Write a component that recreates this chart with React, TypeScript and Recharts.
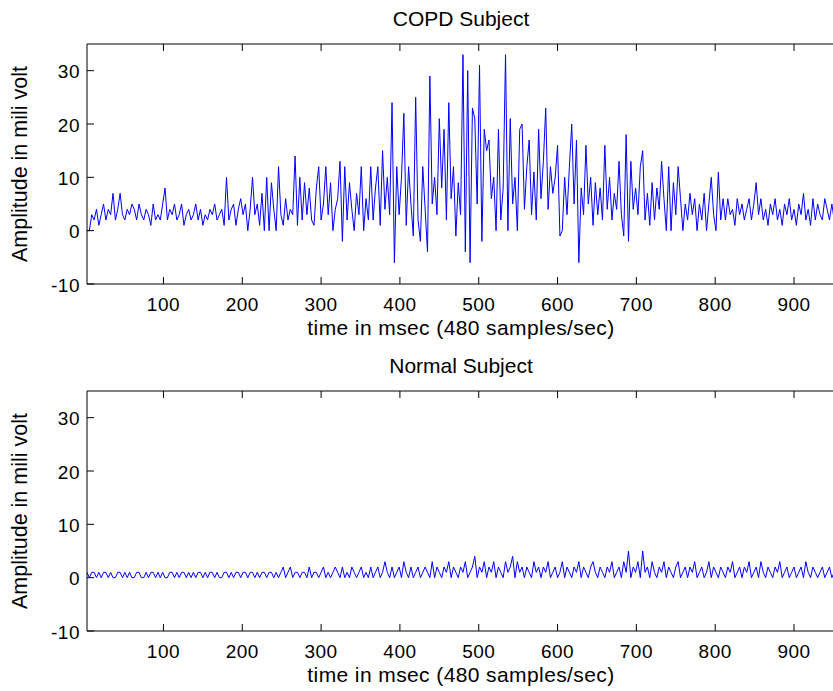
import React from 'react';
import { LineChart, Line, XAxis, YAxis, Label } from 'recharts';

const SAMPLE_START = 3;
const SAMPLE_STEP = 3;
const X_DOMAIN: [number, number] = [3, 952];
const X_TICKS = [100, 200, 300, 400, 500, 600, 700, 800, 900];
const Y_DOMAIN: [number, number] = [-10, 35];
const Y_TICKS = [-10, 0, 10, 20, 30];

const TITLE_TOP = 'COPD Subject';
const TITLE_BOTTOM = 'Normal Subject';
const X_LABEL = 'time in msec (480 samples/sec)';
const Y_LABEL = 'Amplitude in mili volt';

// COPD subject amplitude (mV), one value every 3 ms starting at 3 ms
const copdValues = [
  0, 0, 3, 2, 4, 1, 3, 5, 2, 4,
  3, 7, 2, 4, 7, 3, 2, 4, 3, 5,
  4, 2, 5, 3, 2, 4, 3, 1, 5, 2,
  3, 2, 5, 8, 2, 4, 3, 5, 2, 3,
  5, 1, 3, 4, 2, 3, 5, 2, 4, 1,
  3, 2, 4, 3, 5, 2, 3, 4, 1, 10,
  2, 4, 5, 1, 4, 6, 3, 5, 0, 4,
  10, 3, 5, 1, 7, 0, 10, 0, 9, 4,
  0, 12, 3, 1, 6, 2, 4, 3, 14, 1,
  10, 2, 9, 3, 8, 2, 1, 8, 12, 2,
  5, 12, 3, 9, 0, 4, 6, 13, -2, 12,
  2, 9, 4, 0, 7, 3, 12, 0, 6, 2,
  12, 2, 8, 12, 1, 15, 4, 10, 3, 24,
  -6, 12, 3, 10, 22, 1, 12, 5, -1, 25,
  2, -2, 12, 4, -4, 29, 5, 10, 3, 21,
  8, 19, 2, 24, 6, 12, -1, 9, 3, 33,
  -4, 30, -6, 23, 21, 5, 31, -2, 19, 15,
  17, 6, 10, 0, 19, 2, 8, 33, 0, 21,
  5, 10, 0, 19, 20, 4, 12, 17, 3, 11,
  2, 19, 6, 13, 23, 4, 12, 7, 10, 16,
  -1, 0, 10, 3, 12, 20, 5, 17, -6, 8,
  3, 16, 5, 10, 1, 9, 3, 8, 2, 16,
  4, 10, 2, 7, 4, 13, 3, -1, 18, -2,
  13, 4, 8, 3, 12, 15, 2, 7, 1, 9,
  2, 8, 4, 13, 6, 0, 12, 0, 9, 3,
  12, 6, 0, 5, 2, 7, 3, 6, 0, 5,
  2, 7, 0, 5, 10, 3, 0, 11, 2, 6,
  2, 6, 3, 4, 1, 6, 3, 5, 2, 4,
  6, 2, 5, 9, 3, 6, 2, 4, 1, 5,
  3, 6, 2, 4, 1, 5, 3, 6, 2, 4,
  1, 5, 3, 7, 2, 4, 1, 6, 2, 5,
  3, 2, 6, 4, 2, 5, 2,
];

// Normal subject amplitude (mV), one value every 3 ms starting at 3 ms
const normalValues = [
  1, 0, 1, 1, 0, 1, 0, 1, 1, 0,
  1, 0, 0, 1, 1, 0, 1, 0, 1, 0,
  0, 1, 1, 0, 0, 1, 0, 1, 1, 0,
  1, 0, 1, 0, 0, 1, 1, 0, 1, 0,
  1, 1, 0, 1, 0, 1, 0, 1, 1, 0,
  1, 0, 1, 1, 0, 1, 0, 0, 1, 1,
  0, 1, 0, 1, 1, 0, 1, 1, 0, 1,
  1, 0, 1, 0, 1, 1, 0, 1, 1, 0,
  1, 0, 1, 2, 0, 1, 2, 0, 1, 1,
  0, 1, 1, 0, 2, 0, 1, 1, 0, 1,
  2, 0, 1, 0, 1, 2, 1, 0, 2, 0,
  1, 0, 2, 1, 0, 1, 2, 0, 1, 0,
  2, 0, 1, 2, 0, 1, 3, 1, 0, 2,
  0, 1, 2, 0, 3, 1, 0, 2, 0, 1,
  2, 0, 1, 2, 1, 0, 3, 0, 2, 1,
  0, 2, 1, 3, 0, 2, 1, 0, 2, 1,
  3, 0, 1, 2, 4, 0, 2, 1, 3, 0,
  2, 1, 3, 0, 2, 1, 0, 3, 1, 2,
  4, 0, 3, 1, 2, 0, 2, 1, 0, 3,
  1, 2, 0, 2, 1, 3, 0, 1, 2, 0,
  1, 3, 0, 2, 1, 0, 2, 1, 3, 0,
  2, 1, 0, 2, 3, 1, 0, 2, 1, 0,
  2, 1, 3, 0, 1, 2, 0, 3, 1, 5,
  0, 2, 1, 3, 0, 5, 1, 2, 0, 3,
  1, 0, 2, 1, 3, 0, 2, 1, 0, 2,
  3, 0, 1, 2, 0, 2, 1, 3, 0, 1,
  2, 0, 1, 3, 0, 2, 1, 0, 2, 1,
  0, 2, 1, 3, 0, 1, 2, 0, 2, 1,
  3, 0, 1, 2, 0, 3, 1, 0, 2, 1,
  0, 2, 1, 3, 0, 1, 2, 0, 1, 2,
  0, 1, 2, 0, 3, 1, 0, 2, 1, 0,
  1, 2, 0, 1, 2, 0, 1,
];

const FONT = '"Liberation Sans", Arial, Helvetica, sans-serif';
const LINE_COLOR = '#0000ff';

const toRows = (values: number[]) =>
  values.map((v, i) => ({ t: SAMPLE_START + SAMPLE_STEP * i, v }));

const copdData = toRows(copdValues);
const normalData = toRows(normalValues);

const BottomTick = (props: any) => {
  const { x, y, payload } = props;
  return (
    <g>
      <line x1={x} x2={x} y1={y} y2={y - 7} stroke="#000" strokeWidth={1} />
      <text x={x} y={y + 26.7} textAnchor="middle" fontSize={19} fontFamily={FONT} letterSpacing={0.5} fill="#000">
        {payload.value}
      </text>
    </g>
  );
};

const TopTick = (props: any) => {
  const { x, y } = props;
  return <line x1={x} x2={x} y1={y} y2={y + 7} stroke="#000" strokeWidth={1} />;
};

const LeftTick = (props: any) => {
  const { x, y, payload } = props;
  return (
    <g>
      <line x1={x} x2={x + 7} y1={y} y2={y} stroke="#000" strokeWidth={1} />
      <text x={x - 7} y={y + 7.5} textAnchor="end" fontSize={19} fontFamily={FONT} letterSpacing={0.5} fill="#000">
        {payload.value}
      </text>
    </g>
  );
};

const Panel = ({ data, title, height, marginTop, marginBottom }: any) => (
  <LineChart
    width={830}
    height={height}
    data={data}
    margin={{ top: marginTop - 1, right: 3, bottom: marginBottom, left: 0 }}
  >
    <XAxis
      xAxisId="top"
      orientation="top"
      dataKey="t"
      type="number"
      domain={X_DOMAIN}
      ticks={X_TICKS}
      allowDataOverflow
      height={1}
      tickSize={0}
      tickMargin={0}
      interval={0}
      tick={<TopTick />}
      axisLine={{ stroke: '#000', strokeWidth: 1 }}
      tickLine={false}
    >
      <Label
        content={({ viewBox }: any) => (
          <text
            x={viewBox.x + viewBox.width / 2}
            y={viewBox.y - 17}
            textAnchor="middle"
            fontSize={21}
            fontFamily={FONT}
            fill="#000"
          >
            {title}
          </text>
        )}
      />
    </XAxis>
    <XAxis
      dataKey="t"
      type="number"
      domain={X_DOMAIN}
      ticks={X_TICKS}
      allowDataOverflow
      height={60}
      tickSize={0}
      tickMargin={0}
      interval={0}
      tick={<BottomTick />}
      axisLine={{ stroke: '#000', strokeWidth: 1 }}
      tickLine={false}
    >
      <Label
        content={({ viewBox }: any) => (
          <text
            x={viewBox.x + viewBox.width / 2}
            y={viewBox.y + 51}
            textAnchor="middle"
            fontSize={21}
            fontFamily={FONT}
            letterSpacing={0.4}
            fill="#000"
          >
            {X_LABEL}
          </text>
        )}
      />
    </XAxis>
    <YAxis
      type="number"
      domain={Y_DOMAIN}
      ticks={Y_TICKS}
      allowDataOverflow
      width={79}
      tickSize={0}
      tickMargin={0}
      interval={0}
      tick={<LeftTick />}
      axisLine={{ stroke: '#000', strokeWidth: 1 }}
      tickLine={false}
    >
      <Label
        content={({ viewBox }: any) => {
          const cy = viewBox.y + viewBox.height / 2;
          return (
            <text
              x={19}
              y={cy}
              textAnchor="middle"
              fontSize={21.5}
              fontFamily={FONT}
              fill="#000"
              transform={`rotate(-90, 19, ${cy})`}
            >
              {Y_LABEL}
            </text>
          );
        }}
      />
    </YAxis>
    <Line
      xAxisId="top"
      type="linear"
      dataKey="v"
      stroke="none"
      strokeWidth={0}
      dot={false}
      activeDot={false}
      legendType="none"
      isAnimationActive={false}
    />
    <Line
      type="linear"
      dataKey="v"
      stroke={LINE_COLOR}
      strokeWidth={1}
      dot={false}
      activeDot={false}
      isAnimationActive={false}
    />
  </LineChart>
);

export default function App() {
  return (
    <div
      style={{
        position: 'fixed',
        top: 8,
        left: 8,
        width: 825,
        height: 683,
        overflow: 'hidden',
        background: '#fff',
      }}
    >
      <Panel data={copdData} title={TITLE_TOP} height={345} marginTop={36} marginBottom={9} />
      <Panel data={normalData} title={TITLE_BOTTOM} height={338} marginTop={38} marginBottom={0} />
    </div>
  );
}
